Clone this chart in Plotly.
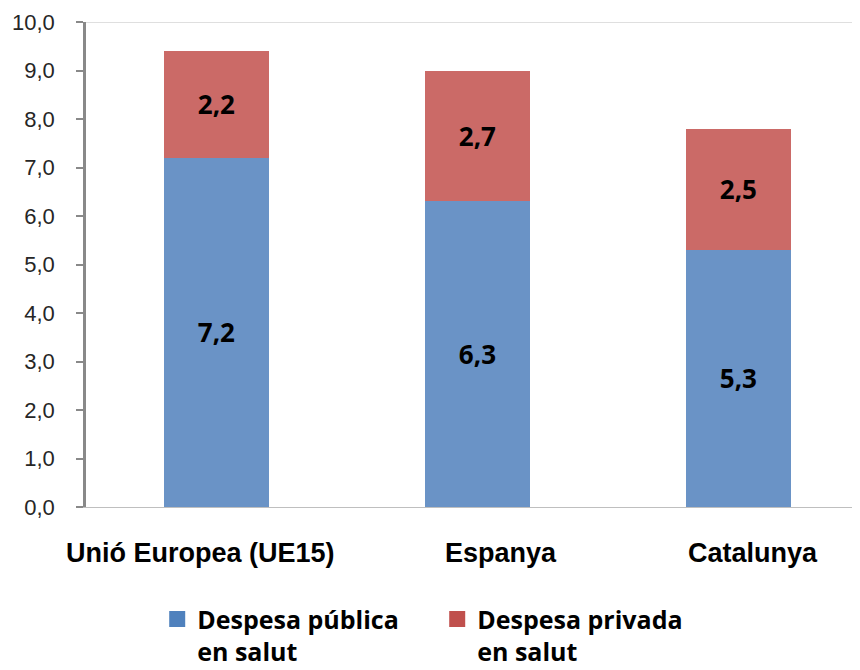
import plotly.graph_objects as go

regions = ["Unió Europea (UE15)", "Espanya", "Catalunya"]
publica = [7.2, 6.3, 5.3]
privada = [2.2, 2.7, 2.5]
series_names = ["Despesa pública<br>en salut", "Despesa privada<br>en salut"]
y_ticks = [0, 1, 2, 3, 4, 5, 6, 7, 8, 9, 10]
y_tick_labels = [f"{v:.1f}".replace(".", ",") for v in y_ticks]

blue = "#6A93C6"
red = "#CB6A67"
legend_blue = "#4F81BD"
legend_red = "#C0504D"
label_font = dict(family="Open Sans, sans-serif", size=26, color="black")

fig = go.Figure()
for vals, name, color in [(publica, series_names[0], blue), (privada, series_names[1], red)]:
    fig.add_trace(go.Bar(
        x=regions,
        y=vals,
        name=name,
        marker=dict(color=color, line=dict(width=0)),
        width=0.4,
        text=[f"<b>{v:.1f}</b>".replace(".", ",") for v in vals],
        textposition="inside",
        insidetextanchor="middle",
        textfont=label_font,
        showlegend=False,
    ))

# legend entries with larger square swatches
for name, color in [(series_names[0], legend_blue), (series_names[1], legend_red)]:
    fig.add_trace(go.Scatter(
        x=[None], y=[None], mode="markers", name=name,
        marker=dict(symbol="square", size=18, color=color),
    ))

# category labels sit slightly off-centre in the original
label_shift = [-16, 24, 15]
for cat, dx in zip(regions, label_shift):
    fig.add_annotation(
        x=cat, y=0, yref="y", yanchor="top", xshift=dx, yshift=-29,
        text=f"<b>{cat}</b>", showarrow=False,
        font=dict(family="Liberation Sans, Arial", size=27, color="black"),
    )

# thin frame line along the top of the plot area
fig.add_shape(type="line", xref="paper", yref="y", x0=0, x1=1, y0=10, y1=10,
              line=dict(color="#BFBFBF", width=1))

# the page body has an 8px margin, so the margins are shifted to compensate
fig.update_layout(
    barmode="stack",
    width=860,
    height=670,
    margin=dict(l=78, r=8, t=14, b=171, autoexpand=False),
    plot_bgcolor="white",
    paper_bgcolor="white",
    uniformtext=dict(minsize=8, mode="show"),
    xaxis=dict(
        range=[-0.5, 2.466],
        automargin=False,
        showline=True,
        linecolor="#BFBFBF",
        linewidth=1,
        ticks="",
        showticklabels=False,
    ),
    yaxis=dict(
        range=[0, 10],
        automargin=False,
        tickvals=y_ticks,
        ticktext=y_tick_labels,
        showgrid=False,
        zeroline=False,
        showline=True,
        linecolor="#898989",
        linewidth=2.5,
        ticks="outside",
        ticklen=7,
        tickwidth=2,
        tickcolor="#898989",
        tickfont=dict(family="Liberation Sans, Arial", size=22, color="#262626"),
        ticklabelstandoff=17,
    ),
    legend=dict(
        orientation="h",
        x=0.092,
        xanchor="left",
        y=-0.184,
        yanchor="top",
        valign="top",
        font=dict(family="Open Sans, sans-serif", size=25, color="black", weight="bold"),
        entrywidth=235,
        entrywidthmode="pixels",
        traceorder="normal",
        itemwidth=30,
        itemsizing="trace",
    ),
    showlegend=True,
)

fig.write_html("out.html")
